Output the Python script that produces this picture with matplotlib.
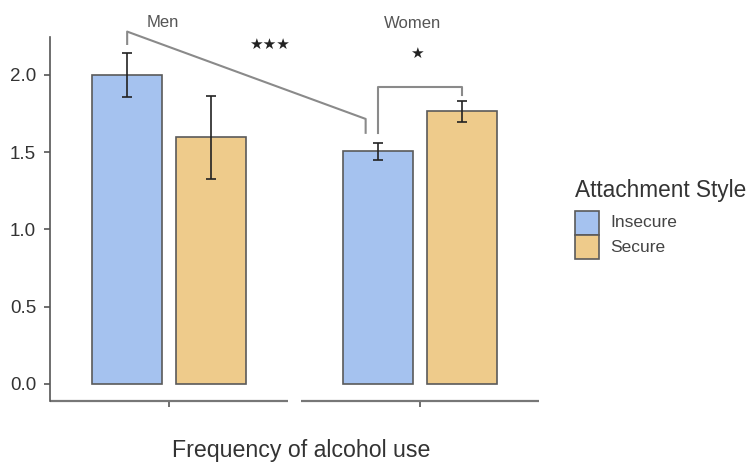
import matplotlib.pyplot as plt
from matplotlib.patches import Rectangle
import numpy as np

plt.rcParams['font.family'] = ['Liberation Sans', 'DejaVu Sans']

# data
groups = ["Men", "Women"]
styles = ["Insecure", "Secure"]
means = {"Insecure": [2.00, 1.508], "Secure": [1.60, 1.765]}
err_lo = {"Insecure": [1.858, 1.452], "Secure": [1.328, 1.695]}
err_hi = {"Insecure": [2.142, 1.562], "Secure": [1.866, 1.832]}
stars = ["\u2605\u2605\u2605", "\u2605"]
y_ticks = [0.0, 0.5, 1.0, 1.5, 2.0]

colors = {"Insecure": "#a5c2ef", "Secure": "#eecb8b"}
edge = "#5a5a5a"
gray_txt = "#555555"

fig = plt.figure(figsize=(7.49, 4.62), dpi=100)
ax = fig.add_axes([50 / 749, 1 - 401 / 462, (539 - 50) / 749, (401 - 37) / 462])

x = np.arange(1, len(groups) + 1)
width = 0.28
offs = {"Insecure": -0.168, "Secure": 0.168}

for s in styles:
    xs = x + offs[s]
    m = np.array(means[s])
    lo = m - np.array(err_lo[s])
    hi = np.array(err_hi[s]) - m
    ax.bar(xs, m, width=width, color=colors[s], edgecolor=edge, linewidth=1.2, zorder=2)
    ax.errorbar(xs, m, yerr=[lo, hi], fmt="none", ecolor="#222222",
                elinewidth=1.2, capsize=3.6, capthick=1.2, zorder=3)

ax.set_xlim(0.524, 2.476)
ax.set_ylim(-0.11, 2.245)
ax.set_yticks(y_ticks)
ax.set_yticklabels(["%.1f" % v for v in y_ticks])
ax.set_xticks(x)
ax.set_xticklabels(["", ""])

for sp in ["top", "right", "bottom"]:
    ax.spines[sp].set_visible(False)
ax.spines["left"].set_color("#555555")
ax.spines["left"].set_linewidth(1.2)
ax.tick_params(axis="y", colors="#555555", labelcolor="#333333", labelsize=13.5,
               length=4, width=1.2, pad=6)
ax.tick_params(axis="x", colors="#555555", length=4, width=1.2)

# broken x axis, one segment per group
trans = ax.get_xaxis_transform()
for xi in x:
    ax.plot([xi - 0.476, xi + 0.476], [0, 0], color="#777777", lw=1.6,
            transform=trans, clip_on=False, solid_capstyle="butt")

fig.text(301 / 749, 1 - 450 / 462, "Frequency of alcohol use", fontsize=16.7,
         color="#333333", ha="center", va="center")

# significance brackets
bc = "#8a8a8a"
men_ins = x[0] + offs["Insecure"]
wom_ins = x[1] + offs["Insecure"]
wom_sec = x[1] + offs["Secure"]
ax.plot([men_ins, men_ins, wom_ins - 0.048, wom_ins - 0.048],
        [2.20, 2.28, 1.715, 1.625], color=bc, lw=1.5, clip_on=False)
ax.plot([wom_ins, wom_ins, wom_sec, wom_sec],
        [1.625, 1.92, 1.92, 1.87], color=bc, lw=1.5, clip_on=False)
ax.text(1.40, 2.20, stars[0], ha="center", va="center", fontsize=11,
        color="#222222", family="DejaVu Sans")
ax.text(1.988, 2.137, stars[1], ha="center", va="center", fontsize=11,
        color="#222222", family="DejaVu Sans")
ax.text(0.976, 2.34, groups[0], ha="center", va="center", fontsize=12,
        color=gray_txt, clip_on=False)
ax.text(1.972, 2.33, groups[1], ha="center", va="center", fontsize=12,
        color=gray_txt, clip_on=False)

# legend drawn by hand
fig.text(575 / 749, 1 - 190 / 462, "Attachment Style", fontsize=16.3,
         color="#333333", va="center", ha="left")
for i, s in enumerate(styles):
    y0 = 211 + i * 24
    fig.patches.append(Rectangle((575 / 749, 1 - (y0 + 24) / 462), 24 / 749, 24 / 462,
                                 transform=fig.transFigure, facecolor=colors[s],
                                 edgecolor=edge, linewidth=1.2))
    fig.text(610 / 749, 1 - (y0 + 12) / 462, s, fontsize=12.5, color="#444444",
             va="center", ha="left")

fig.savefig("out.png", dpi=100)
